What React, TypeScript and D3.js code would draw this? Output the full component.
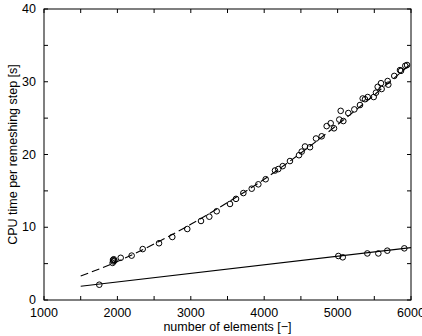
import React, { useEffect, useRef } from "react";
import * as d3 from "d3";

// measured run times (upper series, dashed fit)
const upperN = [1935, 1940, 1945, 1950, 1960, 2045, 2194, 2345, 2567, 2748, 2952, 3139, 3252, 3353, 3534, 3616, 3716, 3830, 3920, 4020, 4147, 4192, 4252, 4351, 4474, 4511, 4556, 4624, 4706, 4783, 4851, 4906, 4951, 5023, 5042, 5078, 5146, 5228, 5305, 5342, 5373, 5410, 5492, 5523, 5546, 5591, 5600, 5682, 5691, 5772, 5850, 5864, 5922, 5946];
const upperT = [5.1, 5.5, 5.3, 5.6, 5.4, 5.8, 6.1, 7.0, 7.8, 8.66, 9.76, 10.86, 11.45, 12.2, 13.2, 13.9, 14.7, 15.3, 15.9, 16.6, 17.8, 18.0, 18.4, 19.1, 19.9, 20.4, 21.1, 21.0, 22.2, 22.5, 23.9, 24.3, 23.6, 24.8, 26.0, 24.6, 25.7, 26.2, 26.8, 27.7, 27.6, 27.9, 27.9, 28.5, 29.3, 29.8, 29.0, 30.1, 29.6, 30.8, 31.6, 31.5, 32.2, 32.3];

// lower series (solid fit)
const lowerN = [1753, 5010, 5070, 5405, 5555, 5677, 5909];
const lowerT = [2.1, 6.05, 5.87, 6.4, 6.4, 6.78, 7.1];

// fit curves
const dashedN = [1500, 2000, 2500, 3000, 3500, 4000, 4500, 5000, 5500, 6000];
const dashedT = [3.3, 5.3, 7.7, 10.4, 13.4, 16.6, 20.2, 24.1, 28.2, 32.5];
const solidN = [1500, 6000];
const solidT = [1.9, 7.2];

const xTicks = [1000, 2000, 3000, 4000, 5000, 6000];
const xMinor = [1500, 2500, 3500, 4500, 5500];
const yTicks = [0, 10, 20, 30, 40];
const yMinor = [5, 15, 25, 35];

const font = "'Liberation Sans', Arial, Helvetica, sans-serif";

export default function App() {
  const ref = useRef<SVGSVGElement>(null);

  useEffect(() => {
    const svg = d3.select(ref.current);
    svg.selectAll("*").remove();

    const margin = { left: 44, right: 11, top: 9, bottom: 36 };
    const W = 422, H = 336;
    const x = d3.scaleLinear().domain([1000, 6000]).range([margin.left, W - margin.right]);
    const y = d3.scaleLinear().domain([0, 40]).range([H - margin.bottom, margin.top]);
    const [x0, x1] = x.range();
    const [y0, y1] = y.range();
    const tl = 4;

    const g = svg.append("g");

    // ticks, inward on all four sides
    const allX = xTicks.concat(xMinor);
    const allY = yTicks.concat(yMinor);
    allX.forEach(v => {
      g.append("line").attr("x1", x(v)).attr("x2", x(v)).attr("y1", y0).attr("y2", y0 - tl)
        .attr("stroke", "#000").attr("stroke-width", 1);
      g.append("line").attr("x1", x(v)).attr("x2", x(v)).attr("y1", y1).attr("y2", y1 + tl)
        .attr("stroke", "#000").attr("stroke-width", 1);
    });
    allY.forEach(v => {
      g.append("line").attr("x1", x0).attr("x2", x0 + tl).attr("y1", y(v)).attr("y2", y(v))
        .attr("stroke", "#000").attr("stroke-width", 1);
      g.append("line").attr("x1", x1).attr("x2", x1 - tl).attr("y1", y(v)).attr("y2", y(v))
        .attr("stroke", "#000").attr("stroke-width", 1);
    });

    // frame
    g.append("rect").attr("x", x0).attr("y", y1).attr("width", x1 - x0).attr("height", y0 - y1)
      .attr("fill", "none").attr("stroke", "#000").attr("stroke-width", 1);

    // tick labels
    g.selectAll(".xl").data(xTicks).enter().append("text")
      .attr("x", d => x(d)).attr("y", y0 + 17)
      .attr("text-anchor", "middle").attr("font-family", font).attr("font-size", 12.5)
      .text(d => d);
    g.selectAll(".yl").data(yTicks).enter().append("text")
      .attr("x", x0 - 8).attr("y", d => y(d) + 4.2)
      .attr("text-anchor", "end").attr("font-family", font).attr("font-size", 12.5)
      .text(d => d);

    // axis titles
    g.append("text").attr("x", (x0 + x1) / 2).attr("y", 331)
      .attr("text-anchor", "middle").attr("font-family", font).attr("font-size", 12.5)
      .text("number of elements [\u2212]");
    g.append("text").attr("transform", `translate(17, ${(y0 + y1) / 2}) rotate(-90)`)
      .attr("text-anchor", "middle").attr("font-family", font).attr("font-size", 12.5)
      .text("CPU time per remeshing step [s]");

    // fits
    g.append("path")
      .attr("d", d3.line<number>().x((d, i) => x(dashedN[i])).y(d => y(d)).curve(d3.curveMonotoneX)(dashedT))
      .attr("fill", "none").attr("stroke", "#000").attr("stroke-width", 1.1)
      .attr("stroke-dasharray", "8,4");
    g.append("path")
      .attr("d", d3.line<number>().x((d, i) => x(solidN[i])).y(d => y(d))(solidT))
      .attr("fill", "none").attr("stroke", "#000").attr("stroke-width", 1.1);

    // measured points
    g.selectAll(".up").data(upperN).enter().append("circle")
      .attr("cx", d => x(d)).attr("cy", (d, i) => y(upperT[i])).attr("r", 2.8)
      .attr("fill", "none").attr("stroke", "#000").attr("stroke-width", 1);
    g.selectAll(".lo").data(lowerN).enter().append("circle")
      .attr("cx", d => x(d)).attr("cy", (d, i) => y(lowerT[i])).attr("r", 2.8)
      .attr("fill", "none").attr("stroke", "#000").attr("stroke-width", 1);
  }, []);

  return (
    <svg ref={ref} width={422} height={336}
      style={{ position: "fixed", left: 0, top: 0, background: "#fff" }} />
  );
}
